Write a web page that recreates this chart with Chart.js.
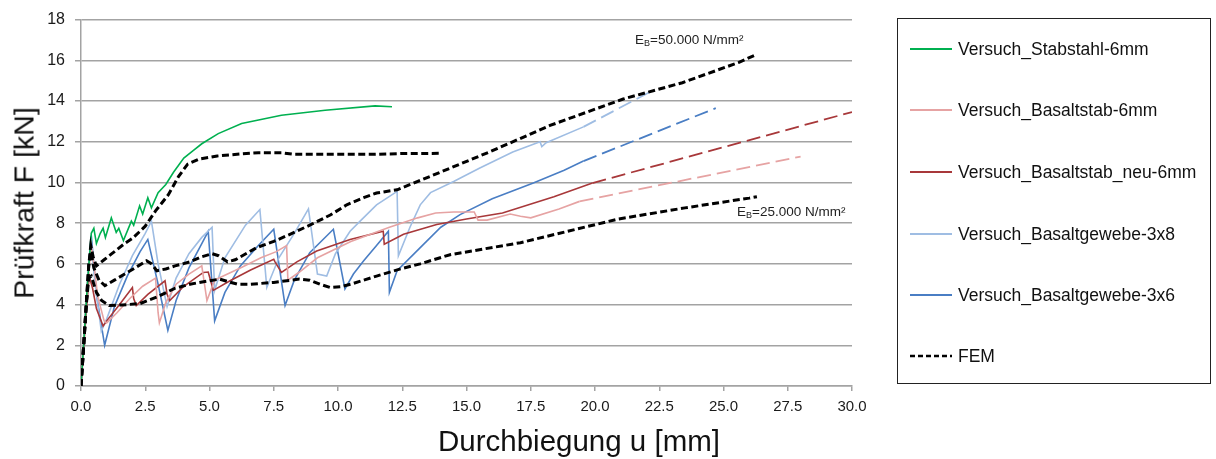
<!DOCTYPE html>
<html>
<head>
<meta charset="utf-8">
<script src="https://cdn.jsdelivr.net/npm/chart.js@4.4.1/dist/chart.umd.min.js"></script>
<style>
  body { margin: 0; background: #fff; font-family: 'Liberation Sans', Arial, sans-serif; }
  #wrap { position: relative; width: 1216px; height: 459px; }
  .ytitle { position: absolute; left: 24px; top: 203px; transform: translate(-50%, -50%) rotate(-90deg);
            font-size: 28.5px; white-space: nowrap; color: #111; }
  .xtitle { position: absolute; left: 579px; top: 441px; transform: translate(-50%, -50%);
            font-size: 29.5px; white-space: nowrap; color: #111; }
  .note { position: absolute; font-size: 13.5px; white-space: nowrap; color: #222; }
  .note sub { font-size: 9px; vertical-align: -2px; }
  #legend { position: absolute; left: 897px; top: 18px; width: 314px; height: 366px;
            border: 1.5px solid #222; box-sizing: border-box; }
  .row { position: absolute; left: 12px; height: 20px; display: flex; align-items: center; }
  .row canvas { margin-right: 6px; }
  .row span { font-size: 17.5px; color: #111; white-space: nowrap; }
</style>
</head>
<body>
<div id="wrap">
  <canvas id="chart" width="1216" height="459"></canvas>
  <div class="ytitle">Prüfkraft F [kN]</div>
  <div class="xtitle">Durchbiegung u [mm]</div>
  <div class="note" style="left:635px; top:32px">E<sub>B</sub>=50.000 N/mm²</div>
  <div class="note" style="left:737px; top:204px">E<sub>B</sub>=25.000 N/mm²</div>
  <div id="legend"></div>
</div>
<script>
// Achsen
const xTicksMax = 30;
const yTicksMax = 18;

// Versuch_Stabstahl-6mm
const stahlX = [0, 0.1, 0.25, 0.4, 0.5, 0.6, 0.75, 0.86, 0.95, 1.18, 1.37, 1.47, 1.65, 1.96, 2.05, 2.28, 2.4, 2.6, 2.74, 3.0, 3.3, 3.6, 4.0, 4.4, 4.7, 5.34, 6.25, 7.8, 9.5, 11.44, 12.1];
const stahlY = [0, 2.0, 5.0, 7.5, 7.75, 7.0, 7.5, 7.75, 7.3, 8.26, 7.55, 7.75, 7.15, 8.1, 7.9, 8.85, 8.45, 9.25, 8.75, 9.5, 9.9, 10.5, 11.2, 11.6, 11.9, 12.4, 12.9, 13.3, 13.55, 13.76, 13.72];

// Versuch_Basaltstab-6mm
const basaltX = [0, 0.1, 0.25, 0.4, 0.5, 0.65, 0.9, 1.0, 1.4, 1.9, 2.4, 2.9, 3.0, 3.05, 3.3, 3.7, 4.2, 4.7, 4.9, 5.2, 5.7, 6.2, 7.0, 7.6, 8.0, 8.05, 8.5, 9.2, 10.5, 12.0, 13.1, 13.8, 14.5, 15.3, 15.45, 15.8, 16.7, 17.1, 17.5, 18.6, 19.4];
const basaltY = [0, 2.2, 5.0, 6.9, 6.0, 4.4, 3.2, 3.1, 3.6, 4.3, 4.9, 5.3, 3.6, 3.1, 4.1, 5.0, 5.5, 5.9, 4.2, 5.2, 5.5, 5.8, 6.3, 6.6, 6.9, 5.2, 5.6, 6.3, 7.1, 7.8, 8.26, 8.5, 8.55, 8.55, 8.15, 8.15, 8.45, 8.34, 8.26, 8.7, 9.07];
const basaltExtX = [19.4, 28.0];
const basaltExtY = [9.07, 11.27];

// Versuch_Basaltstab_neu-6mm
const basaltNeuX = [0, 0.1, 0.2, 0.32, 0.45, 0.6, 0.86, 1.0, 1.5, 2.0, 2.05, 2.15, 2.6, 3.27, 3.35, 3.45, 4.0, 4.76, 4.95, 5.15, 5.8, 6.6, 7.5, 7.55, 7.8, 8.4, 9.17, 10.47, 11.76, 11.8, 12.55, 13.84, 15.0, 16.4, 18.4, 19.9];
const basaltNeuY = [0, 1.8, 3.6, 5.4, 4.8, 3.8, 2.95, 3.2, 4.0, 4.84, 4.3, 3.95, 4.5, 5.17, 4.5, 4.2, 4.9, 5.58, 5.6, 4.7, 5.17, 5.7, 6.23, 6.1, 5.58, 6.1, 6.63, 7.2, 7.6, 6.96, 7.45, 7.93, 8.2, 8.5, 9.3, 9.97];
const basaltNeuExtX = [19.9, 30.0];
const basaltNeuExtY = [9.97, 13.46];

// Versuch_Basaltgewebe-3x8
const gewebe8X = [0, 0.1, 0.2, 0.3, 0.4, 0.55, 0.79, 1.0, 1.5, 2.0, 2.5, 2.74, 3.0, 3.35, 3.7, 4.2, 4.7, 5.1, 5.2, 5.6, 6.4, 6.96, 7.23, 7.7, 8.3, 8.85, 9.2, 9.56, 9.9, 10.47, 10.86, 11.5, 12.3, 12.35, 12.8, 13.2, 13.6, 14.5, 15.5, 16.8, 17.86, 17.93, 18.1, 19.55];
const gewebe8Y = [0, 2.0, 4.0, 6.0, 7.0, 5.0, 2.7, 3.3, 5.0, 6.4, 7.5, 8.1, 6.0, 3.9, 5.3, 6.5, 7.3, 7.8, 4.7, 6.3, 7.9, 8.67, 4.84, 6.3, 7.5, 8.7, 5.5, 5.4, 6.5, 7.6, 8.1, 8.9, 9.56, 6.4, 7.8, 8.9, 9.5, 10.05, 10.7, 11.5, 12.0, 11.76, 11.95, 12.73];
const gewebe8ExtX = [19.55, 22.3];
const gewebe8ExtY = [12.73, 14.55];

// Versuch_Basaltgewebe-3x6
const gewebe6X = [0, 0.1, 0.2, 0.3, 0.4, 0.6, 0.92, 1.3, 1.8, 2.3, 2.6, 3.0, 3.38, 3.7, 4.2, 4.7, 4.95, 5.2, 5.6, 6.2, 6.9, 7.5, 7.94, 8.3, 8.9, 9.82, 10.27, 10.6, 11.0, 11.5, 11.96, 12.0, 12.3, 13.2, 14.0, 14.75, 16.0, 17.6, 18.8, 19.55];
const gewebe6Y = [0, 2.0, 4.0, 6.0, 7.4, 4.5, 2.0, 3.9, 5.4, 6.6, 7.2, 5.0, 2.73, 4.2, 5.8, 7.0, 7.6, 3.2, 4.6, 5.9, 6.9, 7.7, 3.95, 5.2, 6.55, 7.7, 4.77, 5.5, 6.15, 6.9, 7.6, 4.6, 5.66, 6.8, 7.8, 8.42, 9.2, 9.97, 10.6, 11.05];
const gewebe6ExtX = [19.55, 24.7];
const gewebe6ExtY = [11.05, 13.65];

// FEM (Stabstahl)
const femStahlX = [0, 0.1, 0.2, 0.3, 0.38, 0.48, 0.6, 0.9, 1.2, 1.7, 2.0, 2.5, 2.9, 3.4, 3.8, 4.15, 4.6, 5.3, 6.2, 6.9, 7.8, 8.3, 10.1, 11.4, 12.5, 14.0];
const femStahlY = [0, 1.9, 3.9, 5.9, 6.9, 6.3, 5.9, 6.2, 6.5, 7.0, 7.25, 7.85, 8.6, 9.4, 10.3, 10.9, 11.15, 11.3, 11.4, 11.46, 11.46, 11.38, 11.38, 11.38, 11.42, 11.43];

// FEM E_B = 50.000 N/mm²
const fem50X = [0, 0.1, 0.2, 0.3, 0.38, 0.5, 0.7, 0.93, 1.3, 1.7, 2.1, 2.55, 2.75, 2.95, 3.3, 3.66, 4.24, 4.7, 5.1, 5.35, 5.7, 6.0, 6.84, 7.5, 8.13, 8.9, 9.7, 10.34, 11.0, 11.5, 12.3, 13.2, 14.36, 15.9, 18.25, 21.1, 23.4, 25.6, 26.3];
const fem50Y = [0, 1.9, 3.9, 5.9, 6.6, 5.8, 5.2, 4.93, 5.2, 5.5, 5.8, 6.15, 6.0, 5.66, 5.75, 5.9, 6.1, 6.35, 6.5, 6.4, 6.1, 6.2, 6.8, 7.1, 7.45, 7.9, 8.4, 8.9, 9.25, 9.48, 9.64, 10.1, 10.7, 11.5, 12.8, 14.1, 14.9, 15.9, 16.3];

// FEM E_B = 25.000 N/mm²
const fem25X = [0, 0.1, 0.2, 0.3, 0.4, 0.6, 0.8, 1.1, 1.6, 2.3, 3.0, 3.65, 4.24, 4.9, 5.4, 5.8, 6.1, 6.6, 7.5, 8.5, 8.9, 9.3, 9.7, 10.1, 10.5, 11.5, 12.4, 13.2, 14.36, 17.1, 20.9, 23.5, 26.0, 26.3];
const fem25Y = [0, 1.9, 3.9, 5.3, 5.4, 4.6, 4.2, 3.95, 3.98, 4.05, 4.4, 4.8, 5.0, 5.15, 5.25, 5.1, 5.0, 5.0, 5.09, 5.25, 5.2, 5.0, 4.84, 4.88, 5.0, 5.4, 5.74, 6.0, 6.45, 7.04, 8.2, 8.75, 9.23, 9.3];

const seriesNames = ['Versuch_Stabstahl-6mm', 'Versuch_Basaltstab-6mm', 'Versuch_Basaltstab_neu-6mm', 'Versuch_Basaltgewebe-3x8', 'Versuch_Basaltgewebe-3x6', 'FEM'];
const seriesColors = ['#00b050', '#e6a3a3', '#a8383a', '#9fbde3', '#4a7ec4', '#000000'];

function pts(xs, ys) {
    return xs.map((x, i) => ({ x: x, y: ys[i] }));
}

function solid(label, xs, ys, color) {
    return { label: label, data: pts(xs, ys), borderColor: color, borderWidth: 1.6, order: 2 };
}
function ext(xs, ys, color) {
    return { label: '', data: pts(xs, ys), borderColor: color, borderWidth: 1.8, borderDash: [14, 6], order: 2 };
}
function fem(xs, ys) {
    return { label: 'FEM', data: pts(xs, ys), borderColor: '#000', borderWidth: 3, borderDash: [7, 3.5], order: 0 };
}

const datasets = [
    fem(femStahlX, femStahlY),
    fem(fem50X, fem50Y),
    fem(fem25X, fem25Y),
    solid(seriesNames[0], stahlX, stahlY, seriesColors[0]),
    solid(seriesNames[1], basaltX, basaltY, seriesColors[1]),
    ext(basaltExtX, basaltExtY, seriesColors[1]),
    solid(seriesNames[2], basaltNeuX, basaltNeuY, seriesColors[2]),
    ext(basaltNeuExtX, basaltNeuExtY, seriesColors[2]),
    solid(seriesNames[3], gewebe8X, gewebe8Y, seriesColors[3]),
    ext(gewebe8ExtX, gewebe8ExtY, seriesColors[3]),
    solid(seriesNames[4], gewebe6X, gewebe6Y, seriesColors[4]),
    ext(gewebe6ExtX, gewebe6ExtY, seriesColors[4])
];

const gridColor = '#a3a3a3';

new Chart(document.getElementById('chart'), {
    type: 'scatter',
    data: { datasets: datasets },
    options: {
        responsive: false,
        animation: false,
        devicePixelRatio: 1,
        layout: { padding: { left: 0, top: 17, right: 364, bottom: 0 } },
        elements: { point: { radius: 0 }, line: { tension: 0, fill: false } },
        datasets: { scatter: { showLine: true } },
        plugins: { legend: { display: false }, tooltip: { enabled: false } },
        scales: {
            x: {
                type: 'linear', min: 0, max: xTicksMax,
                ticks: { stepSize: 2.5, callback: v => v.toFixed(1), color: '#1a1a1a', padding: 7,
                         font: { family: "'Liberation Sans', Arial", size: 15 }, maxRotation: 0 },
                grid: { drawOnChartArea: false, drawTicks: true, tickLength: 5, color: gridColor, lineWidth: 1.5 },
                border: { color: gridColor, width: 1.5 },
                afterFit: s => { s.height = 73; }
            },
            y: {
                type: 'linear', min: 0, max: yTicksMax,
                ticks: { stepSize: 2, color: '#1a1a1a', padding: 10,
                         font: { family: "'Liberation Sans', Arial", size: 16 } },
                grid: { color: gridColor, lineWidth: 1.5, drawTicks: true, tickLength: 6 },
                border: { color: gridColor, width: 1.5 },
                afterFit: s => { s.width = 81; }
            }
        }
    }
});

// Legende
const legend = document.getElementById('legend');
const rowTops = [20, 81, 143, 205, 266, 327];
seriesNames.forEach((name, i) => {
    const row = document.createElement('div');
    row.className = 'row';
    row.style.top = rowTops[i] + 'px';
    const c = document.createElement('canvas');
    c.width = 42; c.height = 20;
    const g = c.getContext('2d');
    g.strokeStyle = seriesColors[i];
    g.lineWidth = i === 5 ? 2.5 : 1.8;
    if (i === 5) g.setLineDash([5, 3]);
    g.beginPath(); g.moveTo(0, 10); g.lineTo(42, 10); g.stroke();
    const t = document.createElement('span');
    t.textContent = name;
    row.appendChild(c); row.appendChild(t);
    legend.appendChild(row);
});
</script>
</body>
</html>
